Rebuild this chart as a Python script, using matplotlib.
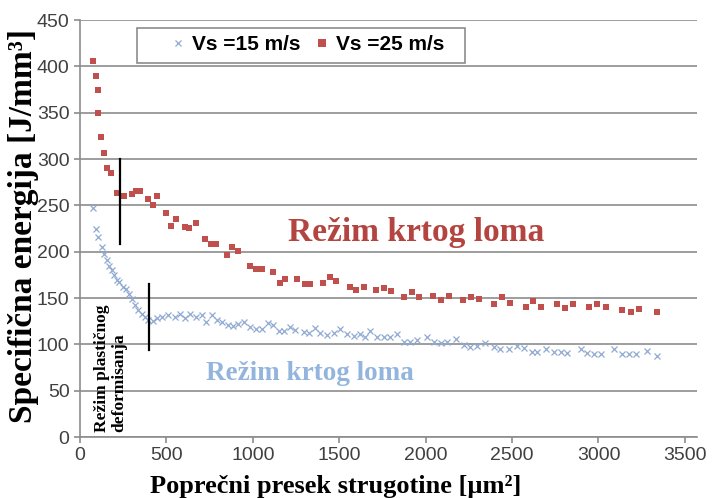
import matplotlib
matplotlib.use("Agg")
import matplotlib.pyplot as plt
from matplotlib.patches import Rectangle

# ---- data ----
red_x = [75, 91, 106, 106, 123, 141, 158, 178, 213, 257, 300, 324, 349, 392, 423, 446,
         498, 527, 556, 608, 633, 670, 726, 759, 788, 850, 882, 917, 981, 1020, 1053,
         1116, 1155, 1188, 1255, 1304, 1333, 1406, 1444, 1483, 1560, 1599, 1641, 1715,
         1761, 1800, 1877, 1922, 1960, 2043, 2090, 2134, 2217, 2264, 2308, 2395, 2439,
         2487, 2578, 2623, 2669, 2758, 2806, 2855, 2945, 2994, 3042, 3138, 3187, 3235, 3337]
red_y = [405.5, 389.6, 374.8, 350, 324, 306.8, 290, 285, 263, 260, 262, 265, 265, 257, 250, 260,
         241.7, 228, 235, 227, 226, 230.6, 213.6, 208, 208, 196, 205, 200.6, 184.4, 181, 181,
         177.6, 165.8, 170.4, 171, 165, 165, 165.8, 172.9, 168.6, 161.4, 158.5, 161.4, 158.5,
         161, 157.8, 151.3, 156.7, 151.3, 152.4, 147.7, 152.4, 147.7, 150.6, 148.5, 143.4, 150.6,
         144.2, 140.5, 147, 140.5, 143.4, 138.8, 143.4, 140.5, 143.4, 140.5, 136.9, 135.1, 137.7, 134.4]

blue_x = [77, 93, 106, 126, 139, 155, 170, 183, 197, 212, 228, 247, 267, 286, 299, 319, 338,
          357, 377, 396, 421, 444, 473, 512, 550, 579, 608, 637, 672, 705, 730, 763, 792,
          821, 859, 888, 917, 950, 985, 1020, 1053, 1085, 1116, 1149, 1178, 1213, 1246,
          1294, 1323, 1362, 1391, 1429, 1468, 1506, 1545, 1584, 1618, 1651, 1680, 1719, 1757,
          1796, 1835, 1873, 1912, 1951, 2009, 2047, 2086, 2125, 2173, 2221, 2259, 2298, 2346,
          2395, 2433, 2482, 2530, 2569, 2617, 2646, 2694, 2742, 2781, 2820, 2897, 2936, 2974,
          3013, 3090, 3138, 3177, 3216, 3283, 3341]
blue_y = [247.5, 225, 216, 205, 197, 191, 185, 180, 175, 169, 167, 162, 159.6, 154, 149, 142, 137,
          133, 130, 126, 125, 128, 130, 131.5, 129, 132.6, 128, 133, 130, 131.5, 124, 131.5, 126,
          124, 120.7, 119.6, 121.8, 124, 119, 117, 117, 122.5, 120.7, 114.6, 114.6, 119, 115,
          113.5, 111.8, 117.2, 112.4, 109.9, 111.8, 116.1, 111, 108.9, 111, 108.1, 114.6, 108.1, 107.5,
          108.1, 111, 102.7, 102.7, 104.5, 108.1, 102.7, 100.9, 102, 105.3, 99.1, 97.3, 98.4, 100.9,
          97.3, 95.5, 94.5, 98.4, 96.2, 91.9, 91.9, 95.5, 91.9, 91.9, 90.8, 95.5, 90.8, 90.1,
          90.1, 94.5, 90.1, 89.4, 89.4, 93, 87.3]

series_labels = ["Vs =15 m/s", "Vs =25 m/s"]
x_ticks = [0, 500, 1000, 1500, 2000, 2500, 3000, 3500]
y_ticks = [0, 50, 100, 150, 200, 250, 300, 350, 400, 450]
x_label = "Poprečni presek strugotine [µm²]"
y_label = "Specifična energija [J/mm³]"
region_text = "Režim krtog loma"
plastic_text = "Režim plastičnog\ndeformisanja"
boundary_lines = [(230, 208, 300), (400, 94, 165)]  # x, y_low, y_high

RED = "#C0504D"
BLUE = "#8FAAD2"
W, H = 716, 498

fig = plt.figure(figsize=(W / 100, H / 100), dpi=100)
ax = fig.add_axes([80 / W, (H - 437) / H, (697 - 80) / W, (437 - 20) / H])

ax.set_xlim(0, 3570)
ax.set_ylim(0, 450)
ax.set_xticks(x_ticks)
ax.set_yticks(y_ticks)
ax.yaxis.grid(True, color="#8C8C8C", linewidth=1.2)
ax.set_axisbelow(True)
for s in ["top", "right"]:
    ax.spines[s].set_visible(False)
for s in ["left", "bottom"]:
    ax.spines[s].set_color("#8C8C8C")
    ax.spines[s].set_linewidth(1.2)
ax.tick_params(axis="both", colors="#8C8C8C", length=4, width=1.2, direction="out",
               labelcolor="#404040", labelsize=14)
for lab in ax.get_xticklabels() + ax.get_yticklabels():
    lab.set_fontfamily("Liberation Sans")

ax.plot(blue_x, blue_y, linestyle="none", marker="x", markersize=4.5,
        markeredgewidth=0.9, color=BLUE, label=series_labels[0], clip_on=False)
ax.plot(red_x, red_y, linestyle="none", marker="s", markersize=5,
        color=RED, markeredgewidth=0, label=series_labels[1], clip_on=False)

for xv, y0, y1 in boundary_lines:
    ax.plot([xv, xv], [y0, y1], color="black", linewidth=1.6)

ax.text(1944, 221, region_text, color="#B4443F", fontsize=24, fontweight="bold",
        family="Liberation Serif", ha="center", va="center")
ax.text(1331, 69, region_text, color="#93B5DD", fontsize=19.5, fontweight="bold",
        family="Liberation Serif", ha="center", va="center")
ax.text(179, 5, plastic_text, color="black", fontsize=12.5, fontweight="bold",
        family="Liberation Serif", ha="center", va="bottom", rotation=90,
        multialignment="left", linespacing=1.1)

# legend frame drawn separately (inside the axes layer), legend entries placed inside it
frame = Rectangle((137 / W, 1 - 63 / H), 328 / W, 35 / H, transform=fig.transFigure,
                  facecolor="white", edgecolor="#8C8C8C", linewidth=1.2, zorder=4,
                  clip_on=False)
ax.add_patch(frame)
leg = ax.legend(loc="upper left", bbox_to_anchor=(160 / W, (H - 28) / H),
                bbox_transform=fig.transFigure, ncol=2, frameon=False,
                prop={"family": "Liberation Sans", "weight": "bold", "size": 15},
                handlelength=1.0, handletextpad=0.2, columnspacing=0.5,
                borderpad=0.35, borderaxespad=0, markerscale=1.1)
leg.set_zorder(6)

fig.text(336 / W, 1 - 486 / H, x_label, fontsize=19, fontweight="bold",
         family="Liberation Serif", ha="center", va="center")
fig.text(24 / W, 1 - 226 / H, y_label, fontsize=24, fontweight="bold",
         family="Liberation Serif", ha="center", va="center", rotation=90)

fig.savefig("out.png", dpi=100)
